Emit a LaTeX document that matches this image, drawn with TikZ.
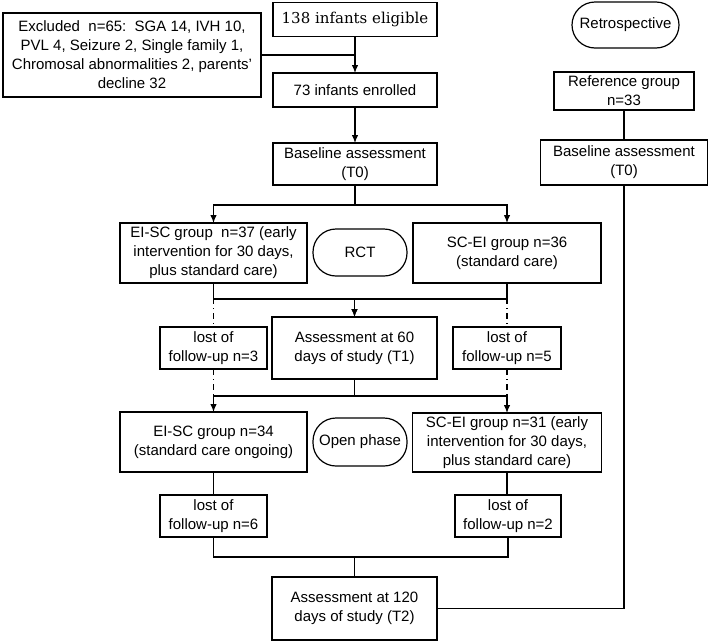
\documentclass[tikz,border=0pt]{standalone}
\usepackage{fontspec}
\setmainfont{Liberation Sans}
\newfontfamily\eligfont{DejaVu Serif}
\usepackage{tikz}
\usetikzlibrary{arrows.meta}

\begin{document}
\begin{tikzpicture}[x=1pt, y=-1pt, line width=1.2pt,
    every node/.style={outer sep=0pt, inner sep=2pt, align=center, font=\fontsize{15}{19}\selectfont},
    box/.style={draw, rectangle},
    pill/.style={draw, rectangle, rounded corners=23pt},
    arr/.style={-{Latex[length=8pt,width=6.5pt]}},
    lossline/.style={dash pattern=on 6pt off 4pt on 1pt off 4pt}]
        \useasboundingbox (0,0) rectangle (709,643);
        % enrolment column
        \node (excl) [box, minimum width=258, minimum height=84] at (132,55) {Excluded\ \ n=65:\ \ SGA 14, IVH 10,\\PVL 4, Seizure 2, Single family 1,\\Chromosal abnormalities 2, parents'\\decline 32};
        \node (elig) [box, minimum width=164, minimum height=34, font=\eligfont\fontsize{15}{18}\selectfont] at (355,19.5) {138 infants eligible};
        \node (enrol) [box, minimum width=164, minimum height=34] at (355,90) {73 infants enrolled};
        \node (base) [box, minimum width=164, minimum height=42] at (355,164) {Baseline assessment\\(T0)};
        % retrospective column
        \node (retro) [pill, minimum width=107, minimum height=46] at (625.5,25) {Retrospective};
        \node (refg) [box, minimum width=140, minimum height=38] at (624,91) {Reference group\\n=33};
        \node (baseR) [box, minimum width=167, minimum height=45] at (624,162.5) {Baseline assessment\\(T0)};
        % RCT phase
        \node (eisc) [box, minimum width=187, minimum height=60] at (213.5,253) {EI-SC group\ \ n=37 (early\\intervention for 30 days,\\plus standard care)};
        \node (rct) [pill, minimum width=94, minimum height=47] at (360,252.5) {RCT};
        \node (scei) [box, minimum width=188, minimum height=60] at (507,253) {SC-EI group n=36\\(standard care)};
        \node (t1) [box, minimum width=165, minimum height=62] at (354.5,348) {Assessment at 60\\days of study (T1)};
        \node (lost3) [box, minimum width=107, minimum height=42] at (213.5,348) {lost of\\follow-up n=3};
        \node (lost5) [box, minimum width=108, minimum height=42] at (507,348) {lost of\\follow-up n=5};
        % open phase
        \node (eisc2) [box, minimum width=187, minimum height=60] at (213.5,442) {EI-SC group n=34\\(standard care ongoing)};
        \node (open) [pill, minimum width=94, minimum height=48] at (360,442) {Open phase};
        \node (scei2) [box, minimum width=189, minimum height=59] at (507,442.5) {SC-EI group n=31 (early\\intervention for 30 days,\\plus standard care)};
        \node (lost6) [box, minimum width=107, minimum height=42] at (213.5,516) {lost of\\follow-up n=6};
        \node (lost2) [box, minimum width=106, minimum height=42] at (508,516) {lost of\\follow-up n=2};
        \node (t2) [box, minimum width=165, minimum height=63] at (354.5,608.5) {Assessment at 120\\days of study (T2)};
        % connectors
        \draw [arr] (elig) -- (enrol);
        \draw (excl.east) -- (elig.south |- excl.east);
        \draw [arr] (enrol) -- (base);
        \draw [arr] (base.south) -- ++(0,20) -| (eisc.north);
        \draw [arr] (base.south) -- ++(0,20) -| (scei.north);
        \draw [lossline] (eisc.south) -- (lost3.north);
        \draw [lossline] (scei.south) -- (lost5.north);
        \draw [arr] (eisc.south) -- ++(0,16) -| (t1.north);
        \draw [arr] (scei.south) -- ++(0,16) -| (t1.north);
        \draw [lossline] (lost3.south) -- (eisc2.north);
        \draw [lossline] (lost5.south) -- (scei2.north);
        \draw [arr] (t1.south) -- ++(0,17) -| (eisc2.north);
        \draw [arr] (t1.south) -- ++(0,17) -| (scei2.north);
        \draw (eisc2) -- (lost6);
        \draw (scei2.south) -- (scei2.south |- lost2.north);
        \draw (lost6.south) -- ++(0,20) -| (t2.north);
        \draw (lost2.south) -- ++(0,20) -| (t2.north);
        \draw (refg) -- (baseR);
        \draw (baseR.south) |- (t2.east);
\end{tikzpicture}
\end{document}
